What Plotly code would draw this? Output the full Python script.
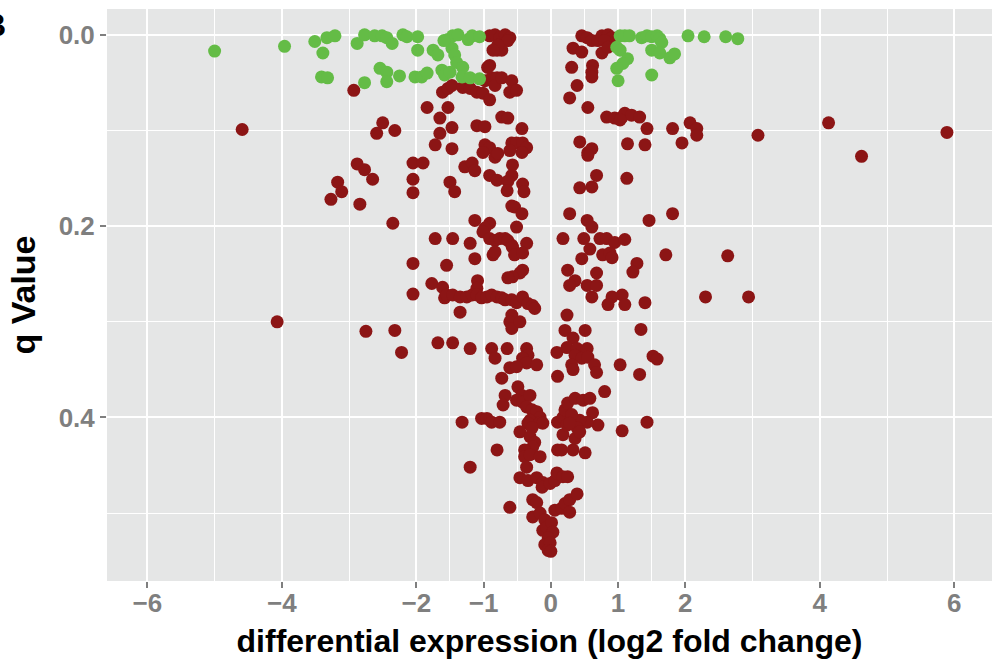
import plotly.graph_objects as go

# ---------------- data (log2 fold change, q value) ----------------
# non-significant genes (dark red)
red_a_lfc = [-0.91, -0.83, -0.76, -0.68, -0.61, -0.64, -0.80, -0.73, -0.79, -0.91,
             -0.98, -0.88, -0.80, -0.83, -0.73, -0.58, -0.61, -0.51, -1.61, -1.53,
             -1.47, -1.31, -1.20, -1.10, -1.01, -0.91, -0.94, -0.86, -1.84, -1.53,
             -1.65, -1.47, -1.65, -1.72, -1.47, -1.10, -0.98, -0.73, -0.64, -0.43,
             -2.50, -2.59, -2.32, -2.93, -4.59, -0.98, -0.91, -1.01, -0.83, -0.79,
             -0.58, -0.51, -0.42, -0.36, -0.43, -0.61, -2.05, -1.90, -1.28, -1.17,
             -1.13, -0.91, -0.80, -0.57, -0.58, -0.64, -2.05, -1.50, -0.42, -2.88,
             -2.77, -2.65, -3.17, -3.11, -3.27, -2.84]
red_a_q = [0.001, 0.000, 0.003, 0.000, 0.003, 0.006, 0.016, 0.016, 0.011, 0.032,
           0.048, 0.045, 0.045, 0.053, 0.045, 0.048, 0.060, 0.058, 0.060, 0.056,
           0.053, 0.055, 0.056, 0.060, 0.061, 0.068, 0.034, 0.016, 0.076, 0.076,
           0.087, 0.097, 0.103, 0.115, 0.119, 0.095, 0.096, 0.086, 0.087, 0.098,
           0.092, 0.103, 0.100, 0.058, 0.099, 0.115, 0.118, 0.123, 0.128, 0.124,
           0.113, 0.113, 0.113, 0.118, 0.123, 0.121, 0.134, 0.134, 0.138, 0.134,
           0.142, 0.147, 0.152, 0.136, 0.147, 0.153, 0.151, 0.154, 0.156, 0.135,
           0.141, 0.151, 0.154, 0.164, 0.172, 0.177]

red_b_lfc = [0.46, 0.54, 0.61, 0.70, 0.76, 0.85, 0.91, 0.88, 0.80, 0.33,
             0.46, 0.76, 0.85, 0.31, 0.62, 0.61, 0.61, 0.39, 0.28, 0.55,
             0.83, 0.95, 1.06, 1.10, 1.20, 1.32, 1.03, 1.43, 1.81, 2.07,
             2.17, 2.17, 0.43, 0.55, 0.61, 0.55, 1.14, 1.40, 1.95, 0.68,
             1.13, 0.43, 0.61, 3.08, 4.13, 4.62, 5.89]
red_b_q = [0.001, 0.003, 0.006, 0.006, 0.001, 0.000, 0.003, 0.008, 0.006, 0.014,
           0.018, 0.019, 0.013, 0.034, 0.032, 0.039, 0.044, 0.053, 0.066, 0.076,
           0.086, 0.087, 0.086, 0.082, 0.084, 0.086, 0.089, 0.098, 0.098, 0.092,
           0.098, 0.105, 0.112, 0.123, 0.119, 0.126, 0.114, 0.115, 0.113, 0.147,
           0.150, 0.160, 0.159, 0.105, 0.092, 0.127, 0.102]

red_c_lfc = [-2.05, -1.43, -0.65, -0.40, -0.58, -0.54, -0.43, -2.35, -1.13, -0.91,
             -0.98, -1.01, -0.51, -1.72, -1.46, -1.20, -0.91, -0.83, -0.76, -0.68,
             -0.64, -0.58, -0.57, -0.36, -1.13, -0.86, -0.83, -0.54, -0.42, -2.05,
             -1.55, -0.42, -0.46, -0.57, -0.64, -1.77, -1.61, -1.09, -1.10, -2.05,
             -1.58, -1.55, -1.46, -1.35, -1.25, -1.17, -1.10, -1.03, -0.95, -0.88,
             -0.80, -0.73, -0.68, -0.58, -0.51, -0.42, -0.34, -0.27, -0.24, -1.35,
             -0.58, -0.61, -0.58, -0.46, -2.32, -2.75, -4.07, -2.22, -1.68, -1.46,
             -1.20, -0.88, -0.83, -0.65, -0.36, -0.34, -0.42, -0.36, -0.21, -0.61,
             -0.51]
red_c_q = [0.165, 0.164, 0.163, 0.164, 0.179, 0.180, 0.187, 0.197, 0.194, 0.197,
           0.202, 0.206, 0.201, 0.213, 0.213, 0.218, 0.213, 0.215, 0.213, 0.213,
           0.215, 0.220, 0.222, 0.218, 0.234, 0.230, 0.227, 0.230, 0.228, 0.239,
           0.241, 0.246, 0.249, 0.253, 0.254, 0.260, 0.264, 0.257, 0.265, 0.271,
           0.275, 0.272, 0.272, 0.274, 0.274, 0.272, 0.272, 0.275, 0.274, 0.272,
           0.274, 0.275, 0.277, 0.277, 0.280, 0.274, 0.281, 0.283, 0.286, 0.290,
           0.293, 0.300, 0.307, 0.300, 0.309, 0.310, 0.300, 0.332, 0.322, 0.322,
           0.328, 0.328, 0.338, 0.328, 0.328, 0.335, 0.338, 0.343, 0.345, 0.348,
           0.347]

red_d_lfc = [0.28, 0.54, 0.61, 1.46, 1.81, 0.18, 0.49, 0.73, 0.83, 0.95,
             1.10, 0.58, 0.46, 0.77, 0.88, 0.91, 1.71, 2.63, 1.28, 1.22,
             0.25, 0.68, 0.36, 0.28, 0.54, 0.68, 0.61, 0.91, 1.06, 1.10,
             0.85, 1.40, 2.30, 2.94, 0.24, 0.21, 0.51, 1.34, 0.33, 0.09,
             0.24, 0.39, 0.54, 0.36, 0.46, 0.55, 0.31, 0.33, 0.65, 0.68,
             1.03, 1.52, 1.58, 1.32, 0.10]
red_d_q = [0.187, 0.194, 0.201, 0.194, 0.187, 0.213, 0.213, 0.213, 0.213, 0.217,
           0.214, 0.224, 0.234, 0.230, 0.228, 0.233, 0.230, 0.231, 0.239, 0.248,
           0.246, 0.249, 0.257, 0.262, 0.262, 0.262, 0.274, 0.274, 0.272, 0.282,
           0.282, 0.280, 0.274, 0.274, 0.293, 0.309, 0.309, 0.308, 0.317, 0.332,
           0.327, 0.328, 0.328, 0.335, 0.338, 0.337, 0.345, 0.350, 0.345, 0.353,
           0.345, 0.336, 0.339, 0.355, 0.357]

red_e_lfc = [-0.73, 0.80, -0.68, -0.71, -0.49, -0.43, -0.51, -0.42, -0.31, -0.36,
             -0.28, -0.21, -0.16, -0.31, -0.34, -0.16, -0.12, -0.46, -0.28, -0.31,
             -0.24, -0.27, -0.39, -0.39, -0.31, -0.16, -0.36, -0.80, -1.20, -1.32,
             -1.03, -0.95, -0.88, -0.76, 0.10, 0.16, 0.33, 0.51, 0.10, 0.18,
             0.21, 0.25, 0.36, 0.48, 0.58, 0.62, 0.70, 0.54, 0.43, 0.39,
             0.36, 0.43, 0.18, 0.24, 0.31, 0.28, 1.06, 1.43, -0.46, -0.34,
             -0.21, -0.12, -0.13, -0.01, 0.06, 0.09, 0.18, 0.25, -0.61, -0.27,
             -0.21, -0.27, -0.16, -0.09, -0.12, -0.06, 0.01, 0.03, -0.04, -0.09,
             -0.01, -0.04, 0.06, 0.16, 0.21, 0.28, 0.39, 0.28, 0.00]
red_e_q = [0.359, 0.373, 0.377, 0.387, 0.368, 0.377, 0.382, 0.384, 0.377, 0.389,
           0.392, 0.394, 0.400, 0.403, 0.406, 0.405, 0.406, 0.415, 0.411, 0.420,
           0.426, 0.431, 0.434, 0.441, 0.439, 0.441, 0.452, 0.434, 0.452, 0.405,
           0.401, 0.401, 0.405, 0.405, 0.434, 0.434, 0.434, 0.437, 0.405, 0.400,
           0.392, 0.385, 0.380, 0.382, 0.380, 0.395, 0.408, 0.405, 0.403, 0.411,
           0.422, 0.415, 0.418, 0.408, 0.397, 0.406, 0.414, 0.405, 0.463, 0.466,
           0.463, 0.468, 0.473, 0.469, 0.466, 0.458, 0.462, 0.462, 0.494, 0.486,
           0.489, 0.504, 0.500, 0.507, 0.518, 0.515, 0.510, 0.520, 0.526, 0.533,
           0.531, 0.539, 0.497, 0.495, 0.490, 0.486, 0.480, 0.499, 0.540]

# significant genes (green)
green_lfc = [-5.00, -3.96, -3.51, -3.39, -3.33, -3.21, -3.41, -3.32, -2.88, -2.77,
             -2.77, -2.62, -2.51, -2.44, -2.36, -2.54, -2.44, -2.44, -2.25, -2.20,
             -2.14, -1.98, -1.98, -1.75, -1.68, -2.02, -1.92, -1.84, -1.62, -1.58,
             -1.50, -1.53, -1.46, -1.38, -1.23, -1.17, -1.06, -1.47, -1.43, -1.40,
             -1.31, -1.32, -1.20, -1.06, -1.59,
             1.03, 1.10, 1.17, 1.35, 1.43, 1.50, 1.58, 1.62, 1.65, 0.98,
             1.03, 1.50, 1.62, 1.77, 1.84, 1.14, 1.07, 0.98, 1.00, 1.50,
             2.04, 2.28, 2.60, 2.78]
green_q = [0.017, 0.012, 0.007, 0.019, 0.003, 0.001, 0.044, 0.045, 0.009, 0.000,
           0.050, 0.001, 0.001, 0.003, 0.009, 0.035, 0.039, 0.049, 0.043, 0.000,
           0.002, 0.002, 0.016, 0.016, 0.021, 0.044, 0.044, 0.040, 0.037, 0.042,
           0.039, 0.005, 0.001, 0.000, 0.005, 0.001, 0.002, 0.014, 0.021, 0.029,
           0.034, 0.044, 0.045, 0.046, 0.006,
           0.001, 0.001, 0.001, 0.003, 0.001, 0.002, 0.001, 0.004, 0.008, 0.013,
           0.016, 0.016, 0.019, 0.024, 0.020, 0.025, 0.030, 0.035, 0.048, 0.042,
           0.001, 0.002, 0.002, 0.004]

x_ticks = [-6, -4, -2, -1, 0, 1, 2, 4, 6]
x_tick_labels = ["\u22126", "\u22124", "\u22122", "\u22121", "0", "1", "2", "4", "6"]
x_minor = [-5, -3, -1.5, -0.5, 0.5, 1.5, 3, 5]
y_ticks = [0.0, 0.2, 0.4]
y_tick_labels = ["0.0", "0.2", "0.4"]
y_minor = [0.1, 0.3, 0.5]

red_lfc = red_a_lfc + red_b_lfc + red_c_lfc + red_d_lfc + red_e_lfc
red_q = red_a_q + red_b_q + red_c_q + red_d_q + red_e_q

RED = "#8C1515"
GREEN = "#64BC46"
FONT = "Liberation Sans, Arial, sans-serif"

fig = go.Figure()
fig.add_trace(go.Scatter(x=red_lfc, y=red_q, mode="markers",
                         marker=dict(color=RED, size=13, line=dict(width=0)),
                         showlegend=False, hoverinfo="skip"))
fig.add_trace(go.Scatter(x=green_lfc, y=green_q, mode="markers",
                         marker=dict(color=GREEN, size=13, line=dict(width=0)),
                         showlegend=False, hoverinfo="skip"))

fig.update_layout(
    width=996, height=665,
    margin=dict(l=107, r=4, t=9, b=84),
    paper_bgcolor="white",
    plot_bgcolor="#E5E6E6",
    font=dict(family=FONT),
    annotations=[dict(text="B", xref="paper", yref="paper", x=-0.112, y=0.972,
                      xanchor="right", yanchor="middle", showarrow=False,
                      font=dict(size=32, color="black", family=FONT, weight="bold"))],
)
fig.update_xaxes(
    automargin=False,
    range=[-6.6, 6.56], tickmode="array", tickvals=x_ticks, ticktext=x_tick_labels,
    showgrid=True, gridcolor="white", gridwidth=2, zeroline=False, showline=False,
    ticks="outside", ticklen=6, tickwidth=1.5, tickcolor="#7F7F7F",
    ticklabelstandoff=-7,
    tickfont=dict(size=26, color="#7F7F7F", family=FONT, weight="bold"),
    minor=dict(tickmode="array", tickvals=x_minor, showgrid=True, gridcolor="white",
               gridwidth=1, ticks=""),
    title=dict(text="differential expression (log2 fold change)", standoff=12,
               font=dict(size=32, color="black", family=FONT, weight="bold")),
)
fig.update_yaxes(
    automargin=False,
    range=[0.571, -0.027], tickmode="array", tickvals=y_ticks, ticktext=y_tick_labels,
    showgrid=True, gridcolor="white", gridwidth=2, zeroline=False, showline=False,
    ticks="outside", ticklen=6, tickwidth=1.5, tickcolor="#7F7F7F",
    tickfont=dict(size=26, color="#7F7F7F", family=FONT, weight="bold"),
    minor=dict(tickmode="array", tickvals=y_minor, showgrid=True, gridcolor="white",
               gridwidth=1, ticks=""),
    title=dict(text="q Value", standoff=12,
               font=dict(size=34, color="black", family=FONT, weight="bold")),
)

fig.write_html("out.html", config={"displayModeBar": False},
               post_script="document.body.style.margin='0';document.body.style.overflow='hidden';")
